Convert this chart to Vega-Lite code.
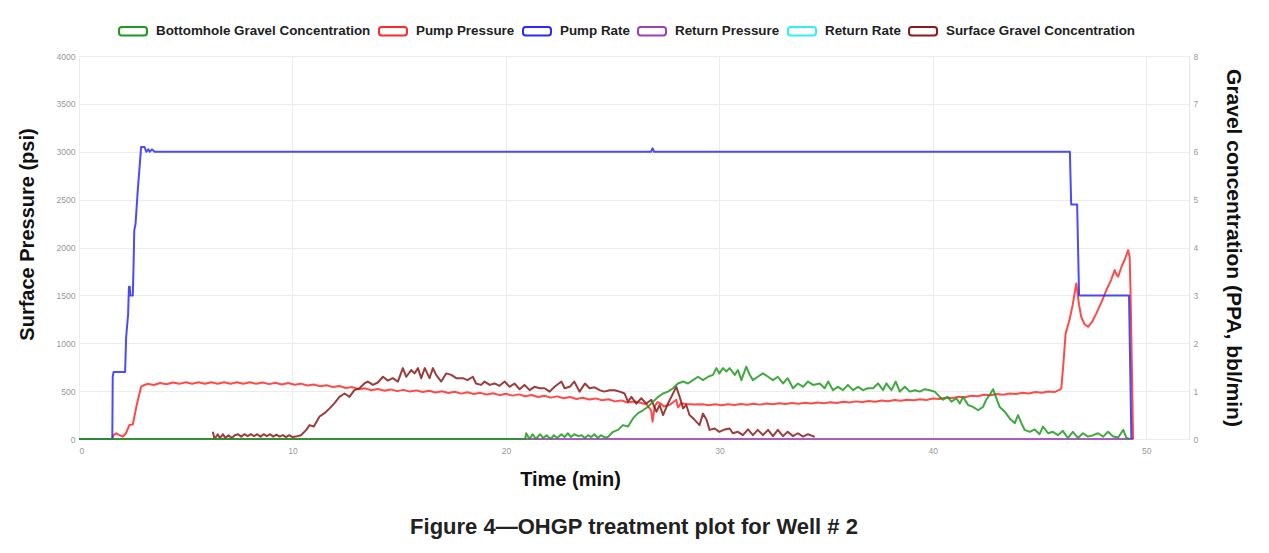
{
  "$schema": "https://vega.github.io/schema/vega-lite/v6.json",
  "width": 1110,
  "height": 383,
  "autosize": {"type": "none"},
  "padding": {"left": 79, "top": 56, "right": 80, "bottom": 114},
  "background": "white",
  "title": {
    "text": "Figure 4—OHGP treatment plot for Well # 2",
    "orient": "bottom",
    "anchor": "middle",
    "font": "Liberation Sans",
    "fontSize": 22,
    "fontWeight": "bold",
    "color": "#222222",
    "offset": 27
  },
  "layer": [
    {
      "layer": [
        {
          "data": {"values": [{"t": 0, "v": 0}, {"t": 49.4, "v": 0}]},
          "mark": {"type": "line"},
          "encoding": {
            "x": {"field": "t", "type": "quantitative", "scale": {"domain": [0, 52], "nice": false},
              "axis": {"values": [0, 10, 20, 30, 40, 50], "format": "d", "title": "Time (min)", "grid": true, "labelPadding": 7, "titlePadding": 15, "titleFontSize": 20, "titleX": 491}},
            "y": {"field": "v", "type": "quantitative", "scale": {"domain": [0, 4000], "nice": false},
              "axis": {"orient": "left", "values": [0, 500, 1000, 1500, 2000, 2500, 3000, 3500, 4000], "format": "d", "title": "Surface Pressure (psi)", "grid": true, "labelPadding": 4, "titlePadding": 19, "titleFontSize": 20, "titleY": 178}},
            "color": {"datum": "Return Pressure", "type": "nominal",
              "scale": {"domain": ["Bottomhole Gravel Concentration", "Pump Pressure", "Pump Rate", "Return Pressure", "Return Rate", "Surface Gravel Concentration"],
                "range": ["#1E9A1E", "#FF2A2A", "#2A2AFF", "#A040B8", "#30F0F0", "#8B1A1A"]},
              "legend": {
                "encode": {"symbols": {"update": {"fill": {"scale": "color", "field": "value"}, "fillOpacity": {"value": 0.15}, "stroke": {"scale": "color", "field": "value"}}}}
              }}
          }
        },
        {
          "data": {"values": [
            {"t": 0, "v": 0}, {"t": 1.55, "v": 0}, {"t": 1.62, "v": 40}, {"t": 1.74, "v": 59}, {"t": 1.85, "v": 45}, {"t": 2.05, "v": 24}, {"t": 2.2, "v": 60}, {"t": 2.36, "v": 146}, {"t": 2.52, "v": 151}, {"t": 2.7, "v": 350}, {"t": 2.91, "v": 546}, {"t": 3.07, "v": 564},
            {"t": 3.2, "v": 576}, {"t": 3.5, "v": 564}, {"t": 3.8, "v": 585}, {"t": 4.1, "v": 572}, {"t": 4.4, "v": 590}, {"t": 4.7, "v": 576}, {"t": 5.0, "v": 593}, {"t": 5.3, "v": 577}, {"t": 5.6, "v": 593}, {"t": 5.9, "v": 577},
            {"t": 6.2, "v": 593}, {"t": 6.5, "v": 577}, {"t": 6.8, "v": 593}, {"t": 7.1, "v": 577}, {"t": 7.4, "v": 593}, {"t": 7.7, "v": 577}, {"t": 8.0, "v": 593}, {"t": 8.3, "v": 576}, {"t": 8.6, "v": 590}, {"t": 8.9, "v": 573},
            {"t": 9.2, "v": 587}, {"t": 9.5, "v": 570}, {"t": 9.8, "v": 584}, {"t": 10.1, "v": 566}, {"t": 10.4, "v": 578}, {"t": 10.7, "v": 558}, {"t": 11.0, "v": 570}, {"t": 11.3, "v": 550}, {"t": 11.6, "v": 562}, {"t": 11.9, "v": 542},
            {"t": 12.2, "v": 554}, {"t": 12.5, "v": 532}, {"t": 12.8, "v": 542}, {"t": 13.1, "v": 519}, {"t": 13.4, "v": 529}, {"t": 13.7, "v": 509}, {"t": 14.0, "v": 523}, {"t": 14.3, "v": 505}, {"t": 14.6, "v": 518}, {"t": 14.9, "v": 500},
            {"t": 15.2, "v": 513}, {"t": 15.5, "v": 495}, {"t": 15.8, "v": 508}, {"t": 16.1, "v": 490}, {"t": 16.4, "v": 504}, {"t": 16.7, "v": 485}, {"t": 17.0, "v": 498}, {"t": 17.3, "v": 480}, {"t": 17.6, "v": 493}, {"t": 17.9, "v": 474},
            {"t": 18.2, "v": 488}, {"t": 18.5, "v": 469}, {"t": 18.8, "v": 482}, {"t": 19.1, "v": 464}, {"t": 19.4, "v": 477}, {"t": 19.7, "v": 458}, {"t": 20.0, "v": 472}, {"t": 20.3, "v": 453}, {"t": 20.6, "v": 466}, {"t": 20.9, "v": 446},
            {"t": 21.2, "v": 459}, {"t": 21.5, "v": 439}, {"t": 21.8, "v": 452}, {"t": 22.1, "v": 432}, {"t": 22.4, "v": 445}, {"t": 22.7, "v": 425}, {"t": 23.0, "v": 438}, {"t": 23.3, "v": 418}, {"t": 23.6, "v": 431}, {"t": 23.9, "v": 412},
            {"t": 24.2, "v": 424}, {"t": 24.5, "v": 404}, {"t": 24.8, "v": 415}, {"t": 25.1, "v": 393}, {"t": 25.4, "v": 403}, {"t": 25.7, "v": 382}, {"t": 26.0, "v": 392}, {"t": 26.3, "v": 379}, {"t": 26.6, "v": 360}, {"t": 26.8, "v": 300},
            {"t": 26.87, "v": 181}, {"t": 26.97, "v": 340}, {"t": 27.1, "v": 385}, {"t": 27.25, "v": 370}, {"t": 27.4, "v": 340}, {"t": 27.7, "v": 360}, {"t": 27.98, "v": 410}, {"t": 28.06, "v": 330}, {"t": 28.2, "v": 372}, {"t": 28.5, "v": 365},
            {"t": 28.8, "v": 360}, {"t": 29.2, "v": 362}, {"t": 29.5, "v": 352},
            {"t": 29.8, "v": 362}, {"t": 30.1, "v": 353}, {"t": 30.4, "v": 364}, {"t": 30.7, "v": 355}, {"t": 31.0, "v": 366}, {"t": 31.3, "v": 357}, {"t": 31.6, "v": 368}, {"t": 31.9, "v": 359}, {"t": 32.2, "v": 371}, {"t": 32.5, "v": 362},
            {"t": 32.8, "v": 374}, {"t": 33.1, "v": 365}, {"t": 33.4, "v": 376}, {"t": 33.7, "v": 368}, {"t": 34.0, "v": 379}, {"t": 34.3, "v": 370}, {"t": 34.6, "v": 382}, {"t": 34.9, "v": 373}, {"t": 35.2, "v": 384}, {"t": 35.5, "v": 377},
            {"t": 35.8, "v": 389}, {"t": 36.1, "v": 381}, {"t": 36.4, "v": 393}, {"t": 36.7, "v": 386}, {"t": 37.0, "v": 398}, {"t": 37.3, "v": 390}, {"t": 37.6, "v": 402}, {"t": 37.9, "v": 395}, {"t": 38.2, "v": 407}, {"t": 38.5, "v": 399},
            {"t": 38.8, "v": 411}, {"t": 39.1, "v": 404}, {"t": 39.4, "v": 416}, {"t": 39.7, "v": 408}, {"t": 40.0, "v": 422}, {"t": 40.3, "v": 417}, {"t": 40.6, "v": 432}, {"t": 40.9, "v": 427}, {"t": 41.2, "v": 442}, {"t": 41.5, "v": 437},
            {"t": 41.8, "v": 452}, {"t": 42.1, "v": 447}, {"t": 42.4, "v": 462}, {"t": 42.7, "v": 456}, {"t": 43.0, "v": 469}, {"t": 43.3, "v": 463}, {"t": 43.6, "v": 476}, {"t": 43.9, "v": 470}, {"t": 44.2, "v": 483}, {"t": 44.5, "v": 476},
            {"t": 44.8, "v": 490}, {"t": 45.1, "v": 483}, {"t": 45.4, "v": 497}, {"t": 45.7, "v": 490}, {"t": 45.95, "v": 515}, {"t": 46.02, "v": 529}, {"t": 46.12, "v": 800}, {"t": 46.22, "v": 1103}, {"t": 46.4, "v": 1242}, {"t": 46.55, "v": 1400},
            {"t": 46.72, "v": 1625}, {"t": 46.85, "v": 1400}, {"t": 46.95, "v": 1277}, {"t": 47.1, "v": 1200}, {"t": 47.27, "v": 1172}, {"t": 47.45, "v": 1220}, {"t": 47.66, "v": 1312}, {"t": 47.9, "v": 1430}, {"t": 48.13, "v": 1556}, {"t": 48.35, "v": 1660},
            {"t": 48.52, "v": 1764}, {"t": 48.6, "v": 1720}, {"t": 48.68, "v": 1694}, {"t": 48.84, "v": 1799}, {"t": 49.0, "v": 1880}, {"t": 49.15, "v": 1973}, {"t": 49.22, "v": 1900}, {"t": 49.26, "v": 1556}, {"t": 49.32, "v": 800}, {"t": 49.38, "v": 0}
          ]},
          "mark": {"type": "line"},
          "encoding": {
            "x": {"field": "t", "type": "quantitative", "scale": {"domain": [0, 52], "nice": false}},
            "y": {"field": "v", "type": "quantitative", "scale": {"domain": [0, 4000], "nice": false}},
            "color": {"datum": "Pump Pressure", "type": "nominal",
              "scale": {"domain": ["Bottomhole Gravel Concentration", "Pump Pressure", "Pump Rate", "Return Pressure", "Return Rate", "Surface Gravel Concentration"],
                "range": ["#1E9A1E", "#FF2A2A", "#2A2AFF", "#A040B8", "#30F0F0", "#8B1A1A"]}}
          }
        }
      ]
    },
    {
      "layer": [
        {
          "data": {"values": [
            {"t": 0, "v": 0}, {"t": 1.56, "v": 0}, {"t": 1.58, "v": 1.3}, {"t": 1.62, "v": 1.4}, {"t": 2.16, "v": 1.4}, {"t": 2.21, "v": 2.14}, {"t": 2.3, "v": 2.6}, {"t": 2.34, "v": 3.18}, {"t": 2.38, "v": 3.18}, {"t": 2.4, "v": 3.0},
            {"t": 2.52, "v": 3.0}, {"t": 2.55, "v": 3.5}, {"t": 2.59, "v": 4.36}, {"t": 2.65, "v": 4.5}, {"t": 2.76, "v": 5.24}, {"t": 2.84, "v": 5.69}, {"t": 2.91, "v": 6.1}, {"t": 3.07, "v": 6.1}, {"t": 3.15, "v": 6.0}, {"t": 3.25, "v": 6.05},
            {"t": 3.31, "v": 6.0}, {"t": 3.42, "v": 6.05}, {"t": 3.54, "v": 6.0}, {"t": 26.8, "v": 6.0}, {"t": 26.87, "v": 6.07}, {"t": 26.94, "v": 6.0}, {"t": 46.42, "v": 6.0}, {"t": 46.48, "v": 4.9}, {"t": 46.76, "v": 4.9}, {"t": 46.85, "v": 3.0},
            {"t": 49.19, "v": 3.0}, {"t": 49.3, "v": 0}
          ]},
          "mark": {"type": "line"},
          "encoding": {
            "x": {"field": "t", "type": "quantitative", "scale": {"domain": [0, 52], "nice": false}},
            "y": {"field": "v", "type": "quantitative", "scale": {"domain": [0, 8], "nice": false},
              "axis": {"orient": "right", "values": [0, 1, 2, 3, 4, 5, 6, 7, 8], "format": "d", "title": "Gravel concentration (PPA, bbl/min)", "grid": false, "labelPadding": 4, "titlePadding": 25, "titleFontSize": 21}},
            "color": {"datum": "Pump Rate", "type": "nominal",
              "scale": {"domain": ["Bottomhole Gravel Concentration", "Pump Pressure", "Pump Rate", "Return Pressure", "Return Rate", "Surface Gravel Concentration"],
                "range": ["#1E9A1E", "#FF2A2A", "#2A2AFF", "#A040B8", "#30F0F0", "#8B1A1A"]}}
          }
        },
        {
          "data": {"values": [
            {"t": 6.27, "v": 0.15}, {"t": 6.35, "v": 0.0}, {"t": 6.5, "v": 0.1}, {"t": 6.6, "v": 0.02}, {"t": 6.75, "v": 0.1}, {"t": 6.85, "v": 0.02}, {"t": 7.0, "v": 0.08}, {"t": 7.15, "v": 0.02}, {"t": 7.3, "v": 0.08}, {"t": 7.45, "v": 0.1},
            {"t": 7.6, "v": 0.05}, {"t": 7.75, "v": 0.1}, {"t": 7.9, "v": 0.06}, {"t": 8.05, "v": 0.1}, {"t": 8.2, "v": 0.06}, {"t": 8.35, "v": 0.1}, {"t": 8.5, "v": 0.05}, {"t": 8.65, "v": 0.1}, {"t": 8.8, "v": 0.06}, {"t": 8.95, "v": 0.1},
            {"t": 9.1, "v": 0.05}, {"t": 9.25, "v": 0.09}, {"t": 9.4, "v": 0.05}, {"t": 9.55, "v": 0.08}, {"t": 9.7, "v": 0.04}, {"t": 9.85, "v": 0.08}, {"t": 10.0, "v": 0.04}, {"t": 10.15, "v": 0.05}, {"t": 10.4, "v": 0.08}, {"t": 10.65, "v": 0.19},
            {"t": 10.8, "v": 0.29}, {"t": 11.0, "v": 0.26}, {"t": 11.27, "v": 0.47}, {"t": 11.5, "v": 0.54}, {"t": 11.74, "v": 0.64}, {"t": 11.97, "v": 0.75}, {"t": 12.2, "v": 0.88}, {"t": 12.44, "v": 0.95}, {"t": 12.67, "v": 0.88}, {"t": 12.9, "v": 1.02},
            {"t": 13.14, "v": 1.06}, {"t": 13.37, "v": 1.16}, {"t": 13.53, "v": 1.2}, {"t": 13.77, "v": 1.13}, {"t": 14.0, "v": 1.18}, {"t": 14.24, "v": 1.3}, {"t": 14.47, "v": 1.22}, {"t": 14.7, "v": 1.27}, {"t": 14.94, "v": 1.2}, {"t": 15.17, "v": 1.48},
            {"t": 15.33, "v": 1.3}, {"t": 15.56, "v": 1.44}, {"t": 15.72, "v": 1.37}, {"t": 15.88, "v": 1.48}, {"t": 16.03, "v": 1.27}, {"t": 16.2, "v": 1.48}, {"t": 16.42, "v": 1.27}, {"t": 16.58, "v": 1.48}, {"t": 16.73, "v": 1.34}, {"t": 16.97, "v": 1.2},
            {"t": 17.2, "v": 1.37}, {"t": 17.44, "v": 1.34}, {"t": 17.67, "v": 1.27}, {"t": 17.98, "v": 1.27}, {"t": 18.2, "v": 1.23}, {"t": 18.45, "v": 1.3}, {"t": 18.6, "v": 1.16}, {"t": 18.84, "v": 1.13}, {"t": 19.0, "v": 1.2}, {"t": 19.24, "v": 1.13},
            {"t": 19.47, "v": 1.16}, {"t": 19.7, "v": 1.11}, {"t": 19.94, "v": 1.2}, {"t": 20.17, "v": 1.09}, {"t": 20.4, "v": 1.16}, {"t": 20.64, "v": 1.04}, {"t": 20.87, "v": 1.13}, {"t": 21.11, "v": 1.02}, {"t": 21.34, "v": 1.09}, {"t": 21.58, "v": 1.06},
            {"t": 21.81, "v": 1.06}, {"t": 22.05, "v": 0.99}, {"t": 22.28, "v": 1.09}, {"t": 22.6, "v": 1.2}, {"t": 22.75, "v": 1.06}, {"t": 22.99, "v": 1.09}, {"t": 23.2, "v": 1.2}, {"t": 23.45, "v": 0.99}, {"t": 23.7, "v": 1.16}, {"t": 23.92, "v": 1.06},
            {"t": 24.15, "v": 1.08}, {"t": 24.39, "v": 1.02}, {"t": 24.6, "v": 0.99}, {"t": 24.86, "v": 1.02}, {"t": 25.1, "v": 1.02}, {"t": 25.33, "v": 0.99}, {"t": 25.56, "v": 0.95}, {"t": 25.72, "v": 0.78}, {"t": 25.88, "v": 0.88}, {"t": 26.11, "v": 0.74},
            {"t": 26.34, "v": 0.85}, {"t": 26.58, "v": 0.74}, {"t": 26.81, "v": 0.82}, {"t": 27.05, "v": 0.57}, {"t": 27.2, "v": 0.71}, {"t": 27.36, "v": 0.5}, {"t": 27.59, "v": 0.74}, {"t": 27.75, "v": 0.88}, {"t": 27.98, "v": 1.09}, {"t": 28.14, "v": 0.88},
            {"t": 28.3, "v": 0.64}, {"t": 28.45, "v": 0.71}, {"t": 28.6, "v": 0.5}, {"t": 28.84, "v": 0.4}, {"t": 29.07, "v": 0.29}, {"t": 29.23, "v": 0.53}, {"t": 29.4, "v": 0.4}, {"t": 29.54, "v": 0.19}, {"t": 29.78, "v": 0.22}, {"t": 30.0, "v": 0.15},
            {"t": 30.25, "v": 0.2}, {"t": 30.48, "v": 0.22}, {"t": 30.63, "v": 0.12}, {"t": 30.87, "v": 0.15}, {"t": 31.1, "v": 0.08}, {"t": 31.34, "v": 0.2}, {"t": 31.57, "v": 0.08}, {"t": 31.8, "v": 0.19}, {"t": 32.04, "v": 0.08}, {"t": 32.28, "v": 0.19},
            {"t": 32.51, "v": 0.06}, {"t": 32.74, "v": 0.19}, {"t": 32.98, "v": 0.06}, {"t": 33.2, "v": 0.15}, {"t": 33.45, "v": 0.06}, {"t": 33.68, "v": 0.12}, {"t": 33.92, "v": 0.05}, {"t": 34.15, "v": 0.1}, {"t": 34.39, "v": 0.06}, {"t": 34.46, "v": 0.04}
          ]},
          "mark": {"type": "line"},
          "encoding": {
            "x": {"field": "t", "type": "quantitative", "scale": {"domain": [0, 52], "nice": false}},
            "y": {"field": "v", "type": "quantitative", "scale": {"domain": [0, 8], "nice": false}},
            "color": {"datum": "Surface Gravel Concentration", "type": "nominal",
              "scale": {"domain": ["Bottomhole Gravel Concentration", "Pump Pressure", "Pump Rate", "Return Pressure", "Return Rate", "Surface Gravel Concentration"],
                "range": ["#1E9A1E", "#FF2A2A", "#2A2AFF", "#A040B8", "#30F0F0", "#8B1A1A"]}}
          }
        },
        {
          "data": {"values": [
            {"t": 0, "v": 0}, {"t": 20.9, "v": 0}, {"t": 20.95, "v": 0.12}, {"t": 21.1, "v": 0}, {"t": 21.25, "v": 0.1}, {"t": 21.4, "v": 0.0}, {"t": 21.6, "v": 0.1}, {"t": 21.75, "v": 0.02}, {"t": 21.9, "v": 0.08}, {"t": 22.1, "v": 0.0},
            {"t": 22.25, "v": 0.08}, {"t": 22.4, "v": 0.02}, {"t": 22.6, "v": 0.1}, {"t": 22.75, "v": 0.04}, {"t": 22.9, "v": 0.12}, {"t": 23.05, "v": 0.04}, {"t": 23.2, "v": 0.1}, {"t": 23.4, "v": 0.06}, {"t": 23.55, "v": 0.08}, {"t": 23.7, "v": 0.02},
            {"t": 23.85, "v": 0.08}, {"t": 24.0, "v": 0.04}, {"t": 24.15, "v": 0.1}, {"t": 24.3, "v": 0.02}, {"t": 24.45, "v": 0.08}, {"t": 24.6, "v": 0.04}, {"t": 24.75, "v": 0.03}, {"t": 25.02, "v": 0.15}, {"t": 25.25, "v": 0.19}, {"t": 25.48, "v": 0.29},
            {"t": 25.72, "v": 0.26}, {"t": 25.95, "v": 0.43}, {"t": 26.19, "v": 0.54}, {"t": 26.42, "v": 0.6}, {"t": 26.65, "v": 0.67}, {"t": 26.89, "v": 0.78}, {"t": 27.13, "v": 0.88}, {"t": 27.36, "v": 0.95}, {"t": 27.59, "v": 0.99}, {"t": 27.83, "v": 1.06},
            {"t": 28.06, "v": 1.16}, {"t": 28.3, "v": 1.2}, {"t": 28.53, "v": 1.16}, {"t": 28.76, "v": 1.23}, {"t": 29.0, "v": 1.3}, {"t": 29.23, "v": 1.23}, {"t": 29.47, "v": 1.3}, {"t": 29.7, "v": 1.34}, {"t": 29.86, "v": 1.48}, {"t": 30.0, "v": 1.37},
            {"t": 30.17, "v": 1.48}, {"t": 30.33, "v": 1.41}, {"t": 30.48, "v": 1.48}, {"t": 30.72, "v": 1.34}, {"t": 30.87, "v": 1.44}, {"t": 31.03, "v": 1.23}, {"t": 31.26, "v": 1.51}, {"t": 31.42, "v": 1.34}, {"t": 31.57, "v": 1.23}, {"t": 31.8, "v": 1.3},
            {"t": 32.04, "v": 1.37}, {"t": 32.28, "v": 1.3}, {"t": 32.51, "v": 1.23}, {"t": 32.74, "v": 1.3}, {"t": 32.98, "v": 1.16}, {"t": 33.2, "v": 1.27}, {"t": 33.45, "v": 1.06}, {"t": 33.68, "v": 1.16}, {"t": 33.92, "v": 1.09}, {"t": 34.15, "v": 1.2},
            {"t": 34.39, "v": 1.13}, {"t": 34.7, "v": 1.16}, {"t": 34.93, "v": 1.06}, {"t": 35.1, "v": 1.2}, {"t": 35.32, "v": 1.02}, {"t": 35.56, "v": 1.09}, {"t": 35.79, "v": 1.02}, {"t": 36.02, "v": 1.13}, {"t": 36.26, "v": 1.02}, {"t": 36.5, "v": 1.09},
            {"t": 36.73, "v": 1.02}, {"t": 36.96, "v": 1.06}, {"t": 37.2, "v": 1.06}, {"t": 37.43, "v": 1.16}, {"t": 37.67, "v": 1.02}, {"t": 37.82, "v": 1.16}, {"t": 38.06, "v": 1.02}, {"t": 38.26, "v": 1.2}, {"t": 38.45, "v": 0.99}, {"t": 38.69, "v": 1.09},
            {"t": 38.92, "v": 0.99}, {"t": 39.16, "v": 1.02}, {"t": 39.39, "v": 0.99}, {"t": 39.62, "v": 1.04}, {"t": 39.86, "v": 1.02}, {"t": 40.09, "v": 0.99}, {"t": 40.32, "v": 0.88}, {"t": 40.48, "v": 0.82}, {"t": 40.7, "v": 0.88}, {"t": 40.87, "v": 0.78},
            {"t": 41.1, "v": 0.85}, {"t": 41.26, "v": 0.74}, {"t": 41.42, "v": 0.88}, {"t": 41.65, "v": 0.71}, {"t": 41.88, "v": 0.67}, {"t": 42.12, "v": 0.6}, {"t": 42.35, "v": 0.67}, {"t": 42.5, "v": 0.82}, {"t": 42.66, "v": 0.92}, {"t": 42.82, "v": 1.04},
            {"t": 42.98, "v": 0.85}, {"t": 43.13, "v": 0.67}, {"t": 43.37, "v": 0.57}, {"t": 43.6, "v": 0.43}, {"t": 43.84, "v": 0.33}, {"t": 43.99, "v": 0.5}, {"t": 44.15, "v": 0.33}, {"t": 44.3, "v": 0.19}, {"t": 44.54, "v": 0.15}, {"t": 44.77, "v": 0.2},
            {"t": 45.0, "v": 0.1}, {"t": 45.16, "v": 0.26}, {"t": 45.4, "v": 0.12}, {"t": 45.62, "v": 0.15}, {"t": 45.86, "v": 0.08}, {"t": 46.09, "v": 0.17}, {"t": 46.32, "v": 0.02}, {"t": 46.56, "v": 0.15}, {"t": 46.8, "v": 0.02}, {"t": 47.03, "v": 0.12},
            {"t": 47.27, "v": 0.05}, {"t": 47.51, "v": 0.08}, {"t": 47.74, "v": 0.12}, {"t": 47.98, "v": 0.05}, {"t": 48.21, "v": 0.15}, {"t": 48.45, "v": 0.05}, {"t": 48.68, "v": 0.03}, {"t": 48.92, "v": 0.19}, {"t": 49.07, "v": 0.02}, {"t": 49.23, "v": 0.0}
          ]},
          "mark": {"type": "line"},
          "encoding": {
            "x": {"field": "t", "type": "quantitative", "scale": {"domain": [0, 52], "nice": false}},
            "y": {"field": "v", "type": "quantitative", "scale": {"domain": [0, 8], "nice": false}},
            "color": {"datum": "Bottomhole Gravel Concentration", "type": "nominal",
              "scale": {"domain": ["Bottomhole Gravel Concentration", "Pump Pressure", "Pump Rate", "Return Pressure", "Return Rate", "Surface Gravel Concentration"],
                "range": ["#1E9A1E", "#FF2A2A", "#2A2AFF", "#A040B8", "#30F0F0", "#8B1A1A"]}}
          }
        }
      ]
    }
  ],
  "resolve": {"scale": {"y": "independent"}, "axis": {"y": "independent"}},
  "config": {
    "view": {"stroke": "#e6e6e6"},
    "line": {"strokeWidth": 2, "opacity": 0.85, "strokeJoin": "round"},
    "axis": {
      "domain": false,
      "ticks": false,
      "gridColor": "#ececec",
      "labelFont": "Liberation Sans",
      "labelFontSize": 8.5,
      "labelColor": "#999999",
      "titleFont": "Liberation Sans",
      "titleFontWeight": "bold",
      "titleColor": "#111111"
    },
    "legend": {
      "orient": "none",
      "legendX": 39,
      "legendY": -40,
      "direction": "horizontal",
      "title": null,
      "symbolType": "M-0.8,-0.3 L0.8,-0.3 A0.2,0.2 0 0 1 1,-0.1 L1,0.1 A0.2,0.2 0 0 1 0.8,0.3 L-0.8,0.3 A0.2,0.2 0 0 1 -1,0.1 L-1,-0.1 A0.2,0.2 0 0 1 -0.8,-0.3 Z",
      "symbolSize": 784,
      "symbolStrokeWidth": 2.2,
      "labelFont": "Liberation Sans",
      "labelFontSize": 13.4,
      "labelFontWeight": "bold",
      "labelColor": "#222222",
      "labelOffset": 8,
      "columnPadding": 6,
      "labelLimit": 400
    }
  }
}
